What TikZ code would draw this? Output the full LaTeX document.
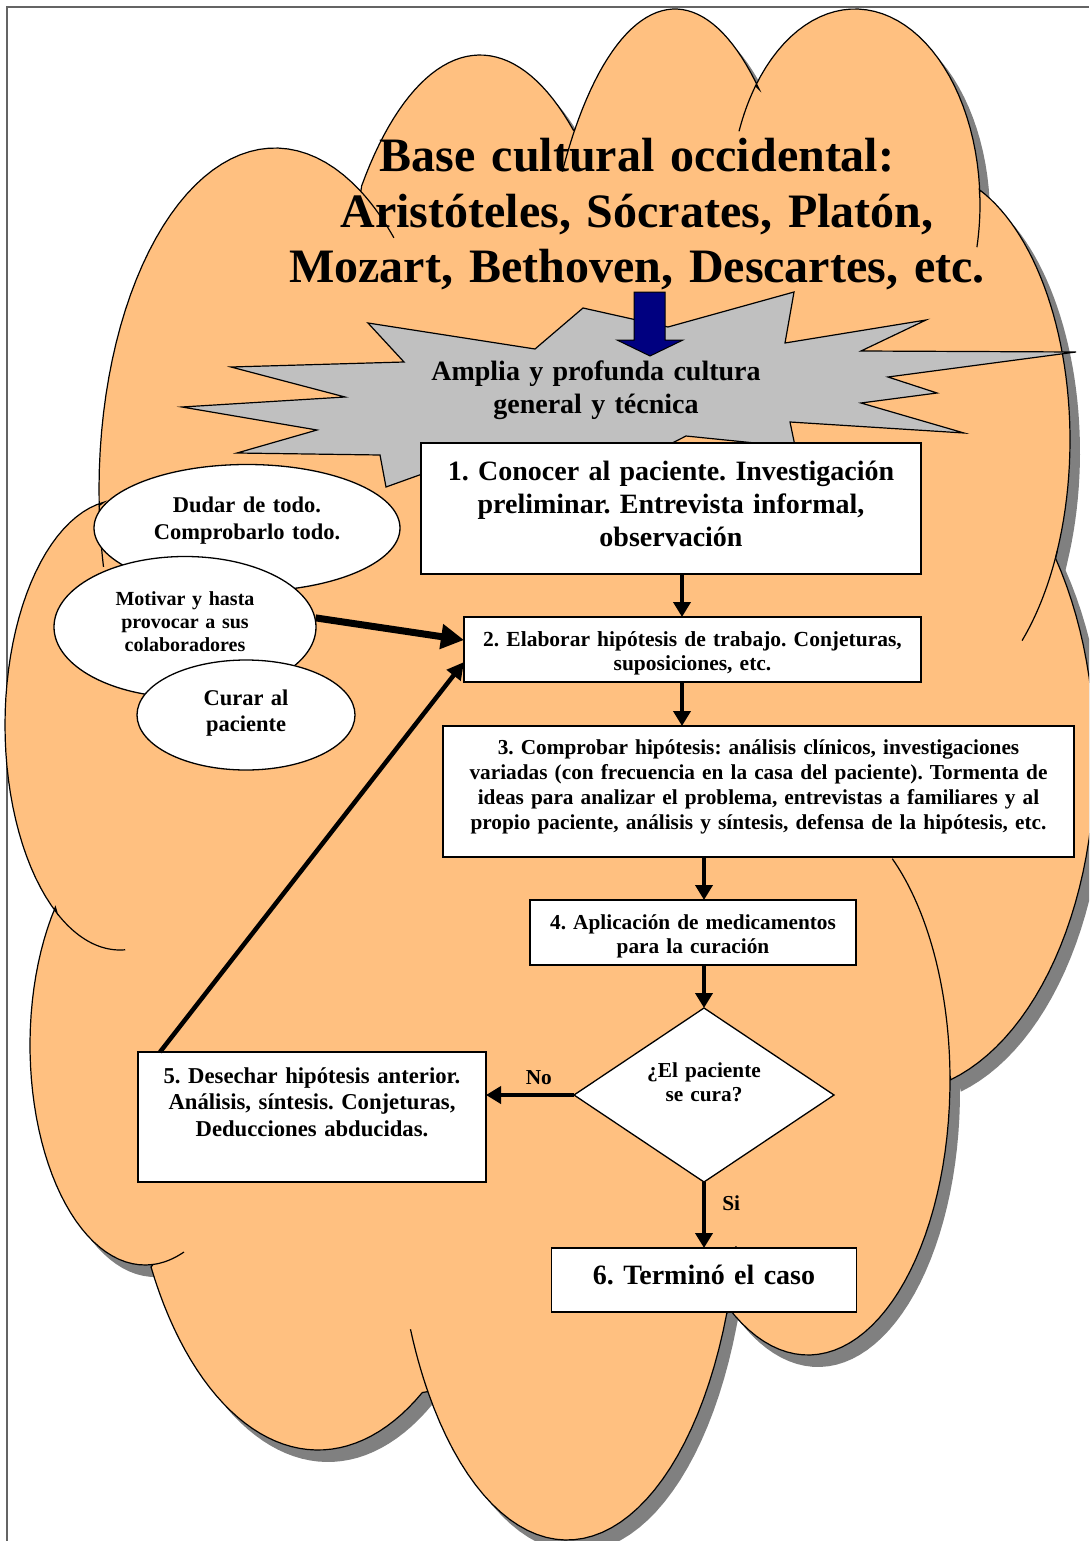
\documentclass[tikz,border=0pt]{standalone}
\usepackage{fontspec}
\setmainfont{Liberation Serif}
\usetikzlibrary{positioning, shapes.geometric, arrows.meta, calc}
\frenchspacing

\definecolor{cloudorange}{RGB}{255,192,128}
\definecolor{shadowgray}{RGB}{128,128,128}
\definecolor{stargray}{RGB}{192,192,192}
\definecolor{arrownavy}{RGB}{0,0,128}
\definecolor{framegray}{RGB}{100,100,100}

% one lobe of the cloud: centre x, centre y, radius x, radius y, from angle, to angle
\newcommand{\lobepart}[6]{plot[domain=#5:#6, samples=40] ({#1+#3*cos(\x)}, {#2+#4*sin(\x)})}
\newcommand{\lobe}[6]{-- plot[domain=#5:#6, samples=40] ({#1+#3*cos(\x)}, {#2+#4*sin(\x)})}
\newcommand{\cloudpath}{%
  (57.2,913.4)
  \lobe{120}{725}{115}{225}{123.1}{261.9}
  \lobe{275}{490}{176}{342}{177.4}{299.2}
  \lobe{480}{455}{160}{400}{222.3}{305.7}
  \lobe{675}{409}{140}{400}{224.3}{307}
  \lobe{855}{204}{125}{195}{217.3}{358.8}
  \lobe{925}{440}{145}{270}{-68}{24.2}
  \lobe{895}{758}{200}{335}{-36.6}{73.8}
  \lobe{808}{1080}{142}{275}{-1}{124.3}
  \lobe{567}{1180}{172}{360}{21.8}{144}
  \lobe{318}{1100}{190}{350}{56.7}{151.5}
  \lobe{145}{1045}{115}{220}{86}{218.8}
  -- cycle}

\begin{document}
\begin{tikzpicture}[
    x=1pt, y=-1pt,
    % --- STYLES ---
    headline/.style={align=center, inner sep=0pt, font=\fontsize{48}{55.5}\selectfont\bfseries},
    stepbox/.style={draw, line width=1.5pt, fill=white, align=center, inner sep=0pt, outer sep=0pt},
    idea/.style={ellipse, draw, line width=1.3pt, fill=white, align=center, inner sep=2pt},
    question/.style={diamond, aspect=1.5, draw, line width=1.3pt, fill=white, align=center, inner sep=3pt, outer sep=0pt},
    answer/.style={inner sep=0pt, font=\fontsize{21.3}{24}\selectfont\bfseries},
    flow/.style={line width=4.5pt, -{Triangle[length=15pt, width=17pt]}},
    cloudline/.style={line width=1.2pt}
]
\useasboundingbox (0,0) rectangle (1089,1541);
\clip (0,0) rectangle (1089,1541);

% page frame
\draw[framegray, line width=1.5pt] (7,1541) -- (7,7) -- (1089,7);

% --- CLOUD ---
\fill[shadowgray, shift={(10,12)}] \cloudpath;
\draw[cloudline, fill=cloudorange] \cloudpath;
% inner lobe edges
\draw[cloudline] \lobepart{275}{490}{176}{342}{167}{177.4};
\draw[cloudline] \lobepart{275}{490}{176}{342}{299.2}{312.5};
\draw[cloudline] \lobepart{675}{409}{140}{400}{216.4}{224.3};
\draw[cloudline] \lobepart{855}{204}{125}{195}{201.9}{217.3};
\draw[cloudline] \lobepart{855}{204}{125}{195}{358.8}{372.8};
\draw[cloudline] \lobepart{925}{440}{145}{270}{24.2}{48};
\draw[cloudline] \lobepart{808}{1080}{142}{275}{-53.6}{-1};
\draw[cloudline] \lobepart{567}{1180}{172}{360}{10.6}{21.8};
\draw[cloudline] \lobepart{567}{1180}{172}{360}{144}{155.5};
\draw[cloudline] \lobepart{145}{1045}{115}{220}{70.2}{86};
\draw[cloudline] \lobepart{120}{725}{115}{225}{87.4}{123.1};

% --- TITLE ---
\node (title) [headline, anchor=base, text width=800pt] at (637,172)
    {Base cultural occidental:\\ Aristóteles, Sócrates, Platón,\\ Mozart, Bethoven, Descartes, etc.};

% --- BURST ---
\draw[line width=1.2pt, fill=stargray] (368,323) -- (535,349) -- (583,308) -- (668,327) -- (794,292)
    -- (785,343) -- (926,320) -- (861,351) -- (1076,352) -- (888,377) -- (937,393) -- (861,403)
    -- (964,433) -- (790,422) -- (800,470) -- (755,443) -- (686,436) -- (600,480) -- (425,473)
    -- (386,487) -- (380,455) -- (237,453) -- (317,430) -- (182,407) -- (345,397) -- (231,367)
    -- (404,362) -- cycle;
\draw[line width=1pt, fill=arrownavy] (634,292) -- (665,292) -- (665,340) -- (683,340) -- (650,356)
    -- (617,340) -- (634,340) -- cycle;
\node (culture) [anchor=base, align=center, text width=360pt, font=\fontsize{28}{33}\selectfont\bfseries]
    at (596,380) {Amplia y profunda cultura\\ general y técnica};

% --- MAIN COLUMN ---
\node (box1) [stepbox, anchor=north, minimum width=500pt, text width=488pt, text height=37pt, text depth=94pt,
    font=\fontsize{28}{33}\selectfont\bfseries] at (671,443)
    {1. Conocer al paciente. Investigación\\ preliminar. Entrevista informal,\\ observación};
\node (box2) [stepbox, below=43pt of box1, xshift=21.5pt, minimum width=457pt, text width=445pt,
    text height=29pt, text depth=36pt, font=\fontsize{21.5}{24}\selectfont\bfseries]
    {2. Elaborar hipótesis de trabajo. Conjeturas,\\ suposiciones, etc.};
\node (box3) [stepbox, below=44pt of box2, xshift=66pt, minimum width=631pt, text width=619pt,
    text height=28pt, text depth=103pt, font=\fontsize{21.3}{25}\selectfont\bfseries]
    {3. Comprobar hipótesis: análisis clínicos, investigaciones\\
     variadas (con frecuencia en la casa del paciente). Tormenta de\\
     ideas para analizar el problema, entrevistas a familiares y al\\
     propio paciente, análisis y síntesis, defensa de la hipótesis, etc.};
\node (box4) [stepbox, below=43pt of box3, xshift=-65.5pt, minimum width=326pt, text width=314pt,
    text height=29pt, text depth=36pt, font=\fontsize{21.3}{24}\selectfont\bfseries]
    {4. Aplicación de medicamentos\\ para la curación};
\node (dec) [question, below=43pt of box4, xshift=11pt, minimum width=260pt, minimum height=174pt,
    text width=120pt, text height=16pt, text depth=52pt, font=\fontsize{21.3}{24}\selectfont\bfseries]
    {¿El paciente\\ se cura?};
\node (box6) [stepbox, below=66pt of dec, minimum width=305pt, text width=290pt,
    text height=36pt, text depth=28pt, font=\fontsize{28}{33}\selectfont\bfseries]
    {6. Terminó el caso};
\node (box5) [stepbox, left=88pt of dec, yshift=-22pt, minimum width=348pt, text width=336pt,
    text height=31pt, text depth=99pt, font=\fontsize{22.7}{26.5}\selectfont\bfseries]
    {5. Desechar hipótesis anterior.\\ Análisis, síntesis. Conjeturas,\\ Deducciones abducidas.};

% --- ATTITUDES ---
\node (doubt) [idea, minimum width=306pt, minimum height=127pt, text width=195pt, text height=20pt,
    text depth=52pt, font=\fontsize{22.5}{27}\selectfont\bfseries] at (247,528)
    {Dudar de todo.\\ Comprobarlo todo.};
\node (mot) [idea, minimum width=262pt, minimum height=141pt, text width=150pt, text height=16pt,
    text depth=60pt, font=\fontsize{20}{23}\selectfont\bfseries] at (185,627)
    {Motivar y hasta\\ provocar a sus\\ colaboradores};
\node (cure) [idea, minimum width=218pt, minimum height=110pt, text width=100pt, text height=18pt,
    text depth=38pt, font=\fontsize{22.5}{26}\selectfont\bfseries] at (246,715)
    {Curar al\\ paciente};

% --- ARROWS ---
\coordinate (trunk) at ([xshift=-10.5pt]box2.south);
\draw[flow] (trunk |- box1.south) -- (trunk |- box2.north);
\draw[flow] (trunk) -- (trunk |- box3.north);
\draw[flow] (dec.north |- box3.south) -- (dec.north |- box4.north);
\draw[flow] (dec.north |- box4.south) -- (dec.north);
\draw[flow] (dec.south) -- (box6.north) node (yes) [answer, pos=0.32, right=16pt] {Si};
\draw[flow] (dec.west) -- (dec.west -| box5.east) node (no) [answer, pos=0.4, above=8pt] {No};
\draw[flow, -{Triangle[length=17pt, width=17pt]}] ([xshift=22pt]box5.north west) -- ([yshift=-45pt]box2.north west);
\draw[line width=7pt, -{Triangle[length=23pt, width=24pt]}] (mot.4) -- ([yshift=-23pt]box2.north west);

\end{tikzpicture}
\end{document}
